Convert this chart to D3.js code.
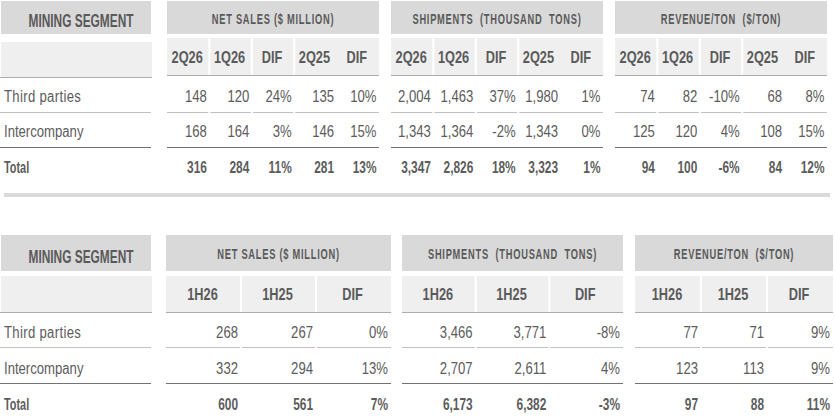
<!DOCTYPE html>
<html>
<head>
<meta charset="utf-8">
<title>Mining segment</title>
<script src="https://d3js.org/d3.v7.min.js"></script>
<style>
  body { margin: 0; background: #fff; }
  text { font-family: "Liberation Sans", Arial, sans-serif; }
</style>
</head>
<body>
<div id="chart"></div>
<script>
// table data
const rowLabels = ["Third parties", "Intercompany", "Total"];
const segmentTitle = "MINING SEGMENT";
const groupTitles = ["NET SALES ($ MILLION)", "SHIPMENTS  (THOUSAND  TONS)", "REVENUE/TON  ($/TON)"];
const quarterCols = ["2Q26", "1Q26", "DIF", "2Q25", "DIF"];
const halfCols = ["1H26", "1H25", "DIF"];

// quarter table: [2Q26, 1Q26, DIF %, 2Q25, DIF %]
const qNetSales = [[148, 120, 24, 135, 10], [168, 164, 3, 146, 15], [316, 284, 11, 281, 13]];
const qShipments = [[2004, 1463, 37, 1980, 1], [1343, 1364, -2, 1343, 0], [3347, 2826, 18, 3323, 1]];
const qRevenue = [[74, 82, -10, 68, 8], [125, 120, 4, 108, 15], [94, 100, -6, 84, 12]];

// half-year table: [1H26, 1H25, DIF %]
const hNetSales = [[268, 267, 0], [332, 294, 13], [600, 561, 7]];
const hShipments = [[3466, 3771, -8], [2707, 2611, 4], [6173, 6382, -3]];
const hRevenue = [[77, 71, 9], [123, 113, 9], [97, 88, 11]];

const W = 835, H = 418;
const svg = d3.select("#chart").append("svg").attr("width", W).attr("height", H);

const c = {
  hdrBg: "#d9d9d9", subBg: "#efefef", hdrText: "#5a5a5a",
  text: "#5c5c5c", thin: "#c0c0c0", dark: "#737373"
};
const fmt = d3.format(",");

function cell(v, col, cols) {
  if (cols[col] === "DIF") return String(v) + "%";
  return fmt(v);
}

// condensed text: no narrow font installed, so squeeze horizontally
function txt(g, x, y, s, opt) {
  const o = Object.assign({ size: 16, weight: "normal", anchor: "start", sx: 0.82, ls: 0, fill: c.text }, opt);
  return g.append("text")
    .attr("transform", `translate(${x},${y}) scale(${o.sx},1)`)
    .attr("text-anchor", o.anchor).attr("font-size", o.size).attr("font-weight", o.weight)
    .attr("letter-spacing", o.ls).attr("fill", o.fill)
    .style("white-space", "pre").text(s);
}

const totalStyle = { size: 17, weight: "bold", sx: 0.7 };

function drawTable(cfg) {
  const g = svg.append("g");
  const y = d3.scalePoint().domain(rowLabels).range(cfg.rowY);
  const hMid = (cfg.hdr[0] + cfg.hdr[1]) / 2;

  // left block: segment title + empty sub header
  g.append("rect").attr("x", 1).attr("y", cfg.hdr[0]).attr("width", 150)
    .attr("height", cfg.hdr[1] - cfg.hdr[0]).attr("fill", c.hdrBg);
  g.append("rect").attr("x", 1).attr("y", cfg.leftSub[0]).attr("width", 151)
    .attr("height", cfg.leftSub[1] - cfg.leftSub[0]).attr("fill", c.subBg);
  g.append("line").attr("x1", 0).attr("x2", 152)
    .attr("y1", cfg.leftSub[1] + 0.5).attr("y2", cfg.leftSub[1] + 0.5)
    .attr("stroke", "#acacac");
  txt(g, 81, hMid + 9.5, segmentTitle,
    { size: 18, weight: "bold", anchor: "middle", sx: 0.66, fill: c.hdrText });

  // row labels + row lines in left block
  rowLabels.forEach((r, i) => {
    txt(g, 4, y(r) + 5.7, r, i === 2 ? Object.assign({}, totalStyle, { sx: 0.64 }) : { size: 16, ls: i === 0 ? 0.4 : 0 });
  });
  cfg.lineY.forEach((ly, i) => {
    g.append("line").attr("x1", 0).attr("x2", 151).attr("y1", ly + 0.5).attr("y2", ly + 0.5)
      .attr("stroke", i === 1 ? c.dark : c.thin);
  });

  cfg.groups.forEach((grp, gi) => {
    const x = d3.scaleBand().domain(d3.range(cfg.cols.length)).range(grp.range);
    const [x0, x1] = grp.range;

    g.append("rect").attr("x", x0).attr("y", cfg.hdr[0]).attr("width", x1 - x0)
      .attr("height", cfg.hdr[1] - cfg.hdr[0]).attr("fill", c.hdrBg);
    txt(g, (x0 + x1) / 2, hMid + 6, groupTitles[gi],
      { size: 15, weight: "bold", anchor: "middle", sx: 0.62, ls: 1.2, fill: c.hdrText });

    // sub header cells
    g.append("rect").attr("x", x0).attr("y", cfg.sub[0]).attr("width", x1 - x0)
      .attr("height", cfg.sub[1] - cfg.sub[0]).attr("fill", c.subBg);
    cfg.seps.forEach(si => {
      const sx = x(si);
      g.append("line").attr("x1", sx).attr("x2", sx).attr("y1", cfg.sub[0]).attr("y2", cfg.sub[1])
        .attr("stroke", "#fff").attr("stroke-width", 2);
    });
    g.append("line").attr("x1", x0).attr("x2", x1)
      .attr("y1", cfg.sub[1] + 0.5).attr("y2", cfg.sub[1] + 0.5).attr("stroke", "#acacac");

    cfg.cols.forEach((col, i) => {
      txt(g, x(i) + x.bandwidth() / 2 - 1, (cfg.sub[0] + cfg.sub[1]) / 2 + 6, col,
        { size: 17, weight: "bold", anchor: "middle", sx: 0.75, fill: c.hdrText });
    });

    // row lines across the group, white gaps at separators
    cfg.lineY.forEach((ly, li) => {
      g.append("line").attr("x1", x0).attr("x2", x1).attr("y1", ly + 0.5).attr("y2", ly + 0.5)
        .attr("stroke", li === 1 ? c.dark : c.thin);
      if (li === 0) {
        cfg.seps.forEach(si => {
          g.append("line").attr("x1", x(si)).attr("x2", x(si)).attr("y1", ly - 1).attr("y2", ly + 2)
            .attr("stroke", "#fff").attr("stroke-width", 2);
        });
      }
    });

    // values
    grp.data.forEach((row, ri) => {
      row.forEach((v, i) => {
        const st = ri === 2 ? totalStyle : { size: 16 };
        txt(g, x(i) + x.bandwidth() - cfg.pad, y(rowLabels[ri]) + 5.7, cell(v, i, cfg.cols),
          Object.assign({ anchor: "end" }, st));
      });
    });
  });
}

// quarter table
drawTable({
  cols: quarterCols,
  hdr: [1, 34], sub: [38, 75], leftSub: [42, 77],
  rowY: [96, 167.5], lineY: [112, 147],
  seps: [1, 2, 3], pad: 2.5,
  groups: [
    { range: [167, 379], data: qNetSales },
    { range: [391, 603], data: qShipments },
    { range: [615, 827], data: qRevenue }
  ]
});

// divider band between the two tables
svg.append("rect").attr("x", 4).attr("y", 193).attr("width", 826).attr("height", 4).attr("fill", "#dadada");

// half-year table
drawTable({
  cols: halfCols,
  hdr: [235, 271], sub: [276, 312], leftSub: [276, 312],
  rowY: [332, 404], lineY: [347, 383],
  seps: [1, 2], pad: 3,
  groups: [
    { range: [166, 391], data: hNetSales },
    { range: [402, 623], data: hShipments },
    { range: [635, 833], data: hRevenue }
  ]
});
</script>
</body>
</html>
